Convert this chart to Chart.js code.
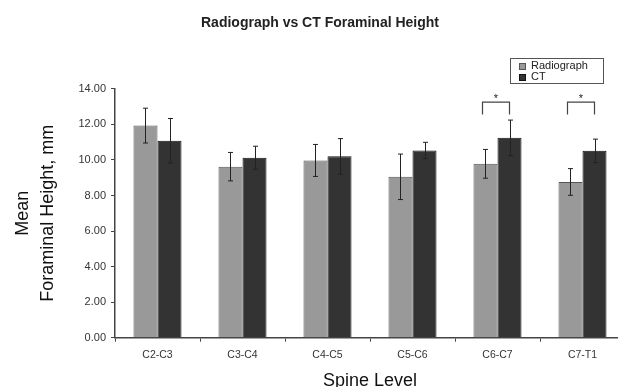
<!DOCTYPE html>
<html>
<head>
<meta charset="utf-8">
<script src="https://cdn.jsdelivr.net/npm/chart.js@4"></script>
<style>
  html, body { margin: 0; padding: 0; overflow: hidden; background: #fff; }
  #wrap { width: 640px; height: 392px; position: relative; }
</style>
</head>
<body>
<div id="wrap"><canvas id="chart"></canvas></div>
<script>
const levels = ['C2-C3', 'C3-C4', 'C4-C5', 'C5-C6', 'C6-C7', 'C7-T1'];
const radiographMean = [11.93, 9.62, 9.97, 9.05, 9.78, 8.76];
const radiographErr = [0.98, 0.8, 0.9, 1.28, 0.81, 0.75];
const ctMean = [11.08, 10.12, 10.2, 10.53, 11.24, 10.51];
const ctErr = [1.25, 0.65, 1.0, 0.46, 1.0, 0.66];
const significant = ['C6-C7', 'C7-T1'];
const yMin = 0, yMax = 14, yStep = 2;

const errors = [radiographErr, ctErr];
const means = [radiographMean, ctMean];

// error bars drawn on top of each bar
const errorBars = {
  id: 'errorBars',
  afterDatasetsDraw(chart) {
    const ctx = chart.ctx;
    const y = chart.scales.y;
    ctx.save();
    ctx.strokeStyle = '#222';
    ctx.lineWidth = 1;
    chart.data.datasets.forEach((ds, i) => {
      chart.getDatasetMeta(i).data.forEach((bar, j) => {
        const top = y.getPixelForValue(means[i][j] + errors[i][j]);
        const bot = y.getPixelForValue(means[i][j] - errors[i][j]);
        const x = Math.round(bar.x) + 0.5;
        ctx.beginPath();
        ctx.moveTo(x, top); ctx.lineTo(x, bot);
        ctx.moveTo(x - 2.5, top); ctx.lineTo(x + 2.5, top);
        ctx.moveTo(x - 2.5, bot); ctx.lineTo(x + 2.5, bot);
        ctx.stroke();
      });
    });
    ctx.restore();
  }
};

// significance brackets with asterisk
const sigMarks = {
  id: 'sigMarks',
  afterDatasetsDraw(chart) {
    const ctx = chart.ctx;
    const y = chart.scales.y;
    const a = chart.getDatasetMeta(0).data;
    const b = chart.getDatasetMeta(1).data;
    ctx.save();
    ctx.strokeStyle = '#444';
    ctx.fillStyle = '#222';
    ctx.lineWidth = 1.2;
    ctx.font = '11px "Liberation Sans", Arial, sans-serif';
    ctx.textAlign = 'center';
    ctx.textBaseline = 'middle';
    significant.forEach(lv => {
      const j = levels.indexOf(lv);
      const x1 = a[j].x - 3, x2 = b[j].x;
      const top = y.getPixelForValue(13.25);
      const bot = y.getPixelForValue(12.55);
      ctx.beginPath();
      ctx.moveTo(x1, bot); ctx.lineTo(x1, top); ctx.lineTo(x2, top); ctx.lineTo(x2, bot);
      ctx.stroke();
      ctx.fillText('*', (x1 + x2) / 2, y.getPixelForValue(13.45));
    });
    ctx.restore();
  }
};

// boxed legend in the top right corner
const boxLegend = {
  id: 'boxLegend',
  afterDraw(chart) {
    const ctx = chart.ctx;
    ctx.save();
    ctx.strokeStyle = '#555';
    ctx.lineWidth = 1;
    ctx.strokeRect(510.5, 58.5, 93, 25);
    ctx.font = '11px "Liberation Sans", Arial, sans-serif';
    ctx.textBaseline = 'middle';
    chart.data.datasets.forEach((ds, i) => {
      const cy = 66 + i * 11;
      ctx.fillStyle = ds.backgroundColor;
      ctx.fillRect(519, cy - 3, 7, 7);
      ctx.strokeStyle = ds.borderColor;
      ctx.strokeRect(519.5, cy - 2.5, 6, 6);
      ctx.fillStyle = '#222';
      ctx.fillText(ds.label, 531, cy);
    });
    ctx.restore();
  }
};

const font = '"Liberation Sans", Arial, sans-serif';

new Chart(document.getElementById('chart'), {
  type: 'bar',
  data: {
    labels: levels,
    datasets: [
      {
        label: 'Radiograph',
        data: radiographMean,
        backgroundColor: '#999999',
        borderColor: '#555555',
        borderWidth: 1,
        categoryPercentage: 0.565,
        barPercentage: 1.0
      },
      {
        label: 'CT',
        data: ctMean,
        backgroundColor: '#333333',
        borderColor: '#111111',
        borderWidth: 1,
        categoryPercentage: 0.565,
        barPercentage: 1.0
      }
    ]
  },
  options: {
    responsive: true,
    maintainAspectRatio: false,
    animation: false,
    layout: { padding: { left: 15, right: 15, top: 0, bottom: 0 } },
    plugins: {
      legend: { display: false },
      tooltip: { enabled: false },
      title: {
        display: true,
        text: 'Radiograph vs CT Foraminal Height',
        color: '#222',
        font: { family: font, size: 14, weight: 'bold', lineHeight: 1.2 },
        padding: { top: 15, bottom: 57 }
      }
    },
    scales: {
      x: {
        offset: true,
        grid: {
          offset: true,
          drawOnChartArea: false,
          drawTicks: true,
          tickLength: 4,
          color: '#444'
        },
        border: { color: '#444', width: 1.5 },
        ticks: {
          color: '#333',
          padding: 7,
          font: { family: font, size: 10.5 }
        },
        title: {
          display: true,
          text: 'Spine Level',
          color: '#111',
          font: { family: font, size: 18, lineHeight: 1.2 },
          padding: { top: 0, bottom: 0 }
        },
        afterFit(scale) { scale.height = 54.3; }
      },
      y: {
        min: yMin,
        max: yMax,
        grid: {
          drawOnChartArea: false,
          drawTicks: true,
          tickLength: 4,
          color: '#444'
        },
        border: { color: '#444', width: 1.5 },
        ticks: {
          stepSize: yStep,
          color: '#333',
          padding: 5,
          font: { family: font, size: 11 },
          callback: v => Number(v).toFixed(2)
        },
        title: {
          display: true,
          text: ['Mean', 'Foraminal Height, mm'],
          color: '#111',
          font: { family: font, size: 18, lineHeight: 1.42 },
          padding: { top: -5, bottom: 0 }
        },
        afterFit(scale) { scale.width = 100; }
      }
    }
  },
  plugins: [errorBars, sigMarks, boxLegend]
});
</script>
</body>
</html>
